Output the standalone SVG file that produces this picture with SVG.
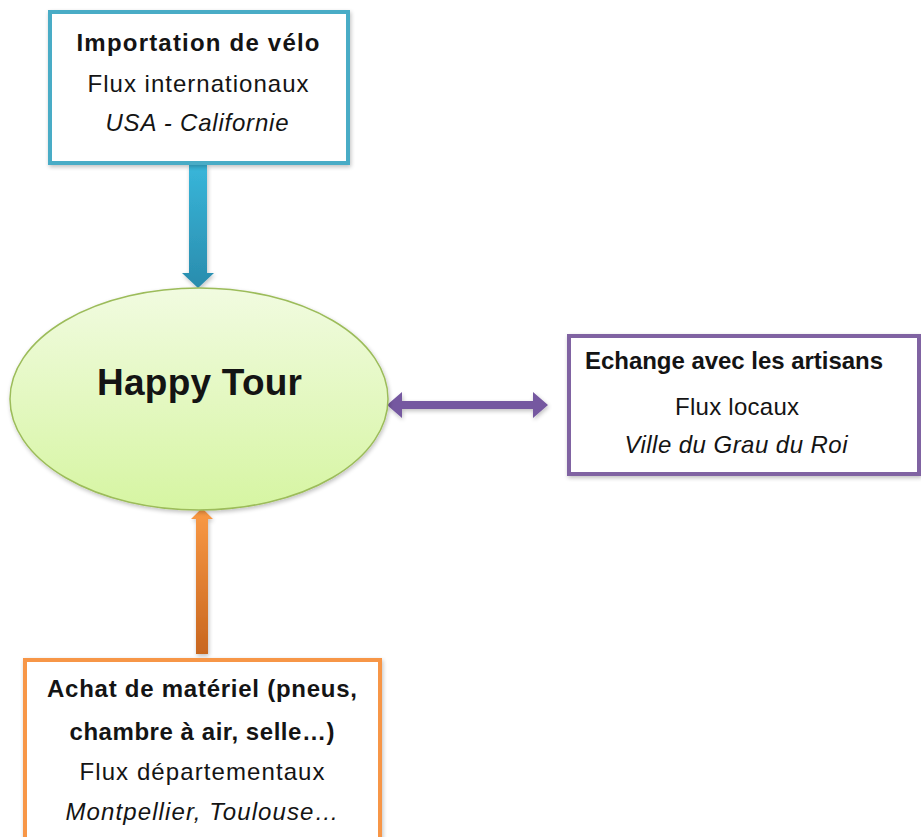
<svg xmlns="http://www.w3.org/2000/svg" width="921" height="837" viewBox="0 0 921 837">
<style>
  .t{font-family:"Liberation Sans",Arial,sans-serif;fill:#141414;text-anchor:middle}
  .b{font-weight:bold;font-size:24px}
  .r{font-size:24px}
  .i{font-size:24px;font-style:italic}
  .box{fill:#ffffff;stroke-width:4}
</style>
<defs>
  <linearGradient id="gEll" x1="0" y1="0" x2="0" y2="1">
    <stop offset="0" stop-color="#f1fbe0"/>
    <stop offset="1" stop-color="#d6f5a2"/>
  </linearGradient>
  <linearGradient id="gBlue" x1="0" y1="0" x2="0" y2="1">
    <stop offset="0" stop-color="#38b6da"/>
    <stop offset="1" stop-color="#2a8cad"/>
  </linearGradient>
  <linearGradient id="gOrange" x1="0" y1="0" x2="0" y2="1">
    <stop offset="0" stop-color="#fa9a45"/>
    <stop offset="1" stop-color="#c8661f"/>
  </linearGradient>
  <filter id="sh" x="-20%" y="-20%" width="140%" height="140%">
    <feGaussianBlur in="SourceAlpha" stdDeviation="2"/>
    <feOffset dx="1" dy="2"/>
    <feComponentTransfer><feFuncA type="linear" slope="0.25"/></feComponentTransfer>
    <feMerge><feMergeNode/><feMergeNode in="SourceGraphic"/></feMerge>
  </filter>
</defs>
<rect width="921" height="837" fill="#ffffff"/>

<g id="connectors">
  <path d="M189,165 H207 V273 H214 L198,288 L182,273 H189 Z" fill="url(#gBlue)" filter="url(#sh)"/>
  <path d="M387,405 L402,392 V401 H533 V392 L548,405 L533,418 V409 H402 V418 Z" fill="#7558a0" filter="url(#sh)"/>
  <path d="M202,508 L213,519 H208 V654 H196 V519 H191 Z" fill="url(#gOrange)" filter="url(#sh)"/>
</g>

<g id="node-import">
  <rect class="box" x="50" y="12" width="298" height="151" stroke="#4aacc6" filter="url(#sh)"/>
  <text class="t b" x="198" y="51" textLength="243">Importation de vélo</text>
  <text class="t r" x="198" y="92" textLength="221">Flux internationaux</text>
  <text class="t i" x="197" y="131" textLength="183">USA - Californie</text>
</g>

<g id="node-happy">
  <ellipse cx="199" cy="399" rx="189" ry="111" fill="url(#gEll)" stroke="#9cbc5a" stroke-width="1.5" filter="url(#sh)"/>
  <text class="t" x="199.5" y="395" font-size="37" font-weight="bold" textLength="205">Happy Tour</text>
</g>

<g id="node-artisans">
  <rect class="box" x="569" y="336" width="350" height="138" stroke="#8064a2" filter="url(#sh)"/>
  <text class="t b" x="734" y="369" textLength="298">Echange avec les artisans</text>
  <text class="t r" x="737" y="415" textLength="124">Flux locaux</text>
  <text class="t i" x="736" y="453" textLength="223">Ville du Grau du Roi</text>
</g>

<g id="node-achat">
  <rect class="box" x="25" y="660" width="355" height="190" stroke="#f79646" filter="url(#sh)"/>
  <text class="t b" x="202" y="697" textLength="310">Achat de matériel (pneus,</text>
  <text class="t b" x="202" y="740" textLength="265">chambre à air, selle…)</text>
  <text class="t r" x="202" y="780" textLength="245">Flux départementaux</text>
  <text class="t i" x="202" y="820" textLength="273">Montpellier, Toulouse…</text>
</g>
</svg>
